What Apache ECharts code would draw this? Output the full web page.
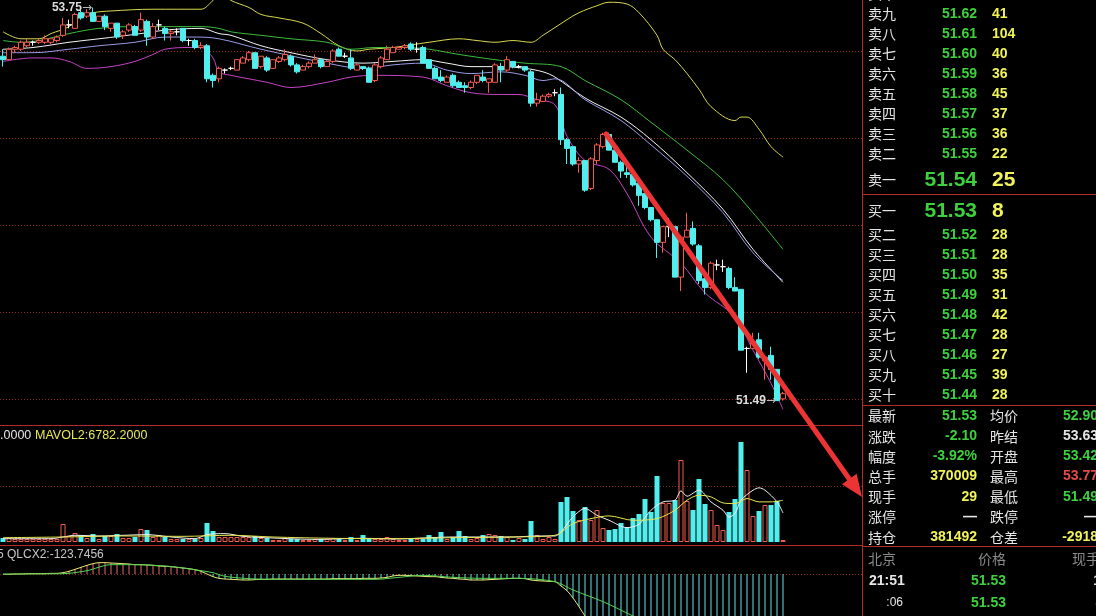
<!DOCTYPE html>
<html><head><meta charset="utf-8">
<script src="https://cdn.jsdelivr.net/npm/echarts@6/dist/echarts.min.js"></script>
<style>html,body{margin:0;padding:0;background:#000;overflow:hidden}#c{width:1096px;height:616px}</style>
</head><body><div id="c"></div>
<script>
// ---------- DATA ----------
// candles: [open, close, low, high]
const ohlc = [
[53.47,53.45,53.41,53.51],[53.45,53.51,53.45,53.52],[53.51,53.52,53.49,53.53],[53.51,53.55,53.50,53.56],[53.53,53.55,53.52,53.57],
[53.55,53.55,53.53,53.56],[53.55,53.56,53.54,53.57],[53.55,53.57,53.54,53.59],[53.55,53.57,53.54,53.57],[53.56,53.58,53.55,53.59],
[53.59,53.65,53.58,53.69],[53.65,53.65,53.63,53.68],[53.63,53.71,53.63,53.72],[53.72,53.69,53.68,53.74],[53.70,53.72,53.69,53.74],
[53.72,53.67,53.67,53.75],[53.67,53.70,53.67,53.70],[53.70,53.64,53.62,53.71],[53.63,53.66,53.61,53.66],[53.66,53.58,53.57,53.66],
[53.59,53.61,53.57,53.62],[53.62,53.65,53.61,53.66],[53.64,53.59,53.59,53.65],[53.62,53.68,53.61,53.72],[53.67,53.58,53.53,53.68],
[53.58,53.64,53.57,53.66],[53.65,53.65,53.62,53.68],[53.63,53.60,53.56,53.64],[53.60,53.61,53.56,53.62],[53.61,53.61,53.59,53.63],
[53.63,53.56,53.55,53.63],[53.56,53.56,53.53,53.57],[53.56,53.52,53.51,53.57],[53.52,53.53,53.51,53.55],[53.53,53.34,53.32,53.54],
[53.36,53.33,53.29,53.37],[53.34,53.40,53.32,53.41],[53.39,53.39,53.37,53.40],[53.40,53.40,53.39,53.41],[53.39,53.45,53.39,53.45],
[53.43,53.46,53.43,53.47],[53.45,53.49,53.44,53.50],[53.49,53.40,53.40,53.49],[53.41,53.47,53.40,53.47],[53.46,53.39,53.38,53.47],
[53.40,53.45,53.40,53.45],[53.44,53.46,53.43,53.47],[53.45,53.48,53.44,53.51],[53.47,53.42,53.41,53.48],[53.42,53.38,53.37,53.43],
[53.39,53.41,53.39,53.42],[53.41,53.43,53.40,53.44],[53.43,53.45,53.43,53.48],[53.45,53.41,53.40,53.45],[53.41,53.44,53.41,53.45],
[53.44,53.50,53.43,53.51],[53.51,53.47,53.47,53.52],[53.47,53.47,53.46,53.49],[53.46,53.40,53.39,53.51],[53.39,53.42,53.39,53.43],
[53.41,53.40,53.39,53.41],[53.40,53.32,53.32,53.41],[53.33,53.42,53.32,53.43],[53.41,53.46,53.40,53.47],[53.45,53.51,53.45,53.53],
[53.49,53.52,53.49,53.53],[53.51,53.52,53.51,53.53],[53.52,53.53,53.51,53.54],[53.54,53.51,53.50,53.55],[53.51,53.51,53.49,53.55],
[53.52,53.43,53.43,53.53],[53.45,53.40,53.40,53.45],[53.40,53.34,53.34,53.41],[53.35,53.33,53.32,53.39],[53.32,53.35,53.32,53.36],
[53.36,53.30,53.29,53.37],[53.32,53.29,53.29,53.33],[53.30,53.29,53.26,53.32],[53.29,53.32,53.28,53.33],[53.32,53.36,53.31,53.36],
[53.35,53.33,53.32,53.39],[53.32,53.34,53.26,53.34],[53.32,53.42,53.32,53.43],[53.41,53.39,53.32,53.43],[53.39,53.45,53.38,53.47],
[53.44,53.41,53.40,53.44],[53.41,53.41,53.40,53.42],[53.41,53.39,53.38,53.41],[53.38,53.20,53.18,53.39],[53.20,53.22,53.18,53.26],
[53.21,53.24,53.21,53.25],[53.24,53.25,53.23,53.26],[53.26,53.26,53.24,53.28],[53.25,52.99,52.96,53.29],[52.99,52.94,52.85,53.00],
[52.95,52.85,52.84,52.95],[52.85,52.87,52.80,52.89],[52.87,52.70,52.69,52.87],[52.71,52.88,52.70,52.89],[52.87,52.96,52.85,52.97],
[52.95,53.02,52.94,53.03],[53.02,52.93,52.93,53.03],[52.93,52.86,52.86,52.94],[52.86,52.81,52.77,52.87],[52.80,52.79,52.77,52.86],
[52.79,52.73,52.72,52.79],[52.74,52.67,52.61,52.75],[52.68,52.60,52.59,52.68],[52.60,52.53,52.52,52.60],[52.53,52.40,52.31,52.53],
[52.40,52.49,52.34,52.49],[52.49,52.49,52.43,52.54],[52.49,52.20,52.20,52.49],[52.20,52.43,52.12,52.44],[52.43,52.47,52.43,52.57],
[52.48,52.39,52.38,52.52],[52.38,52.18,52.16,52.39],[52.19,52.14,52.10,52.20],[52.14,52.28,52.13,52.29],[52.27,52.27,52.24,52.30],
[52.26,52.26,52.23,52.30],[52.25,52.14,52.13,52.26],[52.14,52.12,52.12,52.20],[52.13,51.78,51.78,52.13],[51.79,51.79,51.65,51.80],
[51.79,51.83,51.79,51.88],[51.84,51.74,51.73,51.88],[51.72,51.74,51.61,51.75],[51.75,51.67,51.61,51.80],[51.67,51.49,51.49,51.67],
[51.50,51.53,51.49,51.54]
];
const categories = ohlc.map((_, i) => String(i + 1));

// price-panel overlay lines: [candle index, price]
const bollUpper = [[0,53.61],[3,53.57],[6,53.57],[8,53.60],[11,53.64],[13,53.70],[15,53.72],[18,53.73],[25,53.74],[33,53.74],[35,53.79],[36,53.82],[37,53.82],[38,53.79],[41,53.75],[43,53.71],[46,53.69],[50,53.66],[53,53.60],[56,53.53],[59,53.50],[61,53.51],[65,53.52],[71,53.55],[76,53.57],[79,53.56],[82,53.55],[85,53.56],[88,53.55],[90,53.59],[94,53.68],[96,53.72],[99,53.76],[101,53.78],[104,53.77],[106,53.72],[109,53.59],[110,53.51],[112,53.45],[114,53.37],[116,53.28],[118,53.18],[122,53.10],[123,53.12],[124,53.12],[126,53.05],[128,52.95],[130,52.89]];
const maGreen = [[0,53.56],[3,53.55],[6,53.56],[11,53.60],[16,53.63],[22,53.64],[27,53.64],[33,53.64],[36,53.63],[38,53.61],[43,53.59],[48,53.57],[54,53.55],[58,53.51],[62,53.52],[67,53.52],[71,53.51],[76,53.48],[82,53.45],[87,53.43],[93,53.41],[97,53.33],[103,53.22],[108,53.09],[114,52.93],[120,52.76],[125,52.57],[130,52.36]];
const maWhite = [[0,53.51],[5,53.52],[11,53.55],[16,53.57],[23,53.60],[27,53.62],[33,53.63],[36,53.60],[38,53.59],[43,53.53],[48,53.49],[54,53.45],[60,53.43],[65,53.44],[70,53.45],[74,53.43],[78,53.41],[83,53.41],[87,53.40],[90,53.38],[92,53.35],[97,53.23],[103,53.12],[108,52.99],[114,52.80],[120,52.59],[125,52.36],[130,52.17]];
const maBlue = [[0,53.49],[5,53.49],[11,53.51],[16,53.53],[22,53.55],[27,53.58],[32,53.58],[36,53.57],[43,53.51],[54,53.43],[60,53.40],[65,53.42],[70,53.43],[74,53.39],[78,53.37],[83,53.38],[87,53.36],[90,53.33],[92,53.34],[97,53.22],[103,53.10],[108,52.96],[114,52.78],[120,52.57],[125,52.34],[130,52.18]];
const bollLower = [[0,53.44],[5,53.46],[8,53.46],[11,53.44],[14,53.40],[18,53.41],[22,53.44],[25,53.48],[27,53.51],[31,53.52],[33,53.52],[35,53.46],[36,53.38],[38,53.36],[44,53.32],[48,53.29],[54,53.32],[58,53.35],[62,53.36],[70,53.35],[74,53.30],[78,53.26],[83,53.25],[86,53.25],[89,53.22],[92,53.19],[94,53.01],[97,52.87],[101,52.82],[104,52.68],[108,52.43],[113,52.28],[117,52.11],[122,51.97],[125,51.78],[128,51.59],[130,51.44]];

// volume
const volumes = [
650,640,490,480,500,470,490,510,480,495,
2925,975,1460,1140,650,1300,490,975,980,1300,
650,640,810,2110,1950,810,1140,810,490,480,
490,500,480,650,3090,1790,810,820,800,810,
815,805,975,650,640,325,330,650,490,480,
325,330,490,480,495,650,490,325,810,325,
1140,490,480,495,810,490,325,330,490,480,
490,1140,650,1625,490,810,1790,975,490,650,
1140,1300,1140,975,810,325,650,490,3410,1140,
490,810,490,6500,7310,5040,3575,5690,3575,5200,
2275,1950,2110,3090,2440,3900,4550,6990,4875,10725,
6340,6340,6825,13325,6660,5200,10240,6175,5200,2760,
1950,4875,6990,16250,11700,4225,5040,6010,6010,6660,
325];
const mavol1 = [[0,540],[8,540],[10,815],[12,1090],[16,980],[20,1090],[24,1200],[28,815],[32,540],[34,1200],[37,1360],[40,920],[45,650],[52,430],[60,600],[66,490],[70,650],[75,815],[80,815],[85,815],[89,980],[92,980],[93,1630],[95,4070],[97,5430],[99,4340],[101,3530],[104,2330],[106,2880],[108,5160],[110,6520],[112,6790],[113,8310],[114,7440],[116,8420],[118,6520],[120,5160],[121,4070],[122,4620],[123,6790],[125,8420],[126,8800],[127,8420],[129,6520],[130,4720]];
const mavol2 = [[0,700],[10,815],[20,980],[30,920],[38,1090],[45,815],[55,600],[65,540],[75,700],[85,815],[92,1090],[95,2990],[98,3800],[101,4240],[105,3530],[109,3800],[112,5160],[114,6790],[116,7600],[118,7330],[120,6350],[122,6240],[124,7060],[126,6520],[128,6520],[130,6782.2]];

// QLCX indicator
const qlcx1 = [
-0.5,-0.5,0,0,0.5,0.5,0.5,0.5,1,1,
2,4,7,10,13,15.5,17,17,16.5,16,
15.5,15,14,14,13.5,13,12,11.5,11,10,
9,8,6.5,4,0,-4,-6.5,-7.5,-8,-8.5,
-9,-9,-8.5,-8,-8,-7.5,-7.5,-7.5,-7.5,-7.5,
-7.5,-7.5,-7.5,-7.5,-7.5,-7,-7,-7,-7,-7,
-6.5,-6.5,-6.5,-6,-5,-3,-2,-2,-2.5,-3,
-3.5,-4,-4,-5,-6,-6.5,-7.5,-8,-9,-9,
-9,-8.5,-8,-7.5,-7,-6.5,-6.5,-7,-9,-10,
-10.5,-11,-11.5,-18,-25,-36,-49,-63,-75,-85,
-95,-105,-112,-118,-124,-130,-135,-140,-146,-155,
-160,-163,-170,-172,-170,-172,-175,-178,-177,-175,
-174,-176,-185,-186,-185,-183,-184,-186,-190,-188,-185];
const qlcx2 = [[0,0],[10,0.5],[14,5],[18,14],[22,14],[27,12],[30,9],[33,5],[35,2],[37,-3.5],[41,-7],[45,-8],[55,-8],[62,-8],[66,-5],[70,-2],[75,-5],[80,-6.5],[86,-6.5],[92,-11.5],[95,-24],[100,-41.5],[105,-63],[110,-85],[115,-100],[120,-112],[125,-118],[130,-123.7456]];

// quote panel
const askLabels = ['卖十','卖九','卖八','卖七','卖六','卖五','卖四','卖三','卖二'];
const askPrices = ['51.63','51.62','51.61','51.60','51.59','51.58','51.57','51.56','51.55'];
const askVols = ['','41','104','40','36','45','37','36','22'];
const ask1 = ['卖一','51.54','25'];
const bid1 = ['买一','51.53','8'];
const bidLabels = ['买二','买三','买四','买五','买六','买七','买八','买九','买十'];
const bidPrices = ['51.52','51.51','51.50','51.49','51.48','51.47','51.46','51.45','51.44'];
const bidVols = ['28','28','35','31','42','28','27','39','28'];
const statLabels1 = ['最新','涨跌','幅度','总手','现手','涨停','持仓'];
const statValues1 = ['51.53','-2.10','-3.92%','370009','29','—','381492'];
const statLabels2 = ['均价','昨结','开盘','最高','最低','跌停','仓差'];
const statValues2 = ['52.90','53.63','53.42','53.77','51.49','—','-2918'];
const tickHeader = ['北京','价格','现手'];
const tickTimes = ['21:51',':06'];
const tickPrices = ['51.53','51.53'];
const tickVols = ['1','8'];

// ---------- STYLE ----------
const RED = '#f25a4e', CYAN = '#52eeee', GRID_RED = '#8c2424', SEP_RED = '#b42a2a';
const GREEN_T = '#3dd23d', YELLOW_T = '#f2f25a', WHITE_T = '#e6e6e6';
const C_STAT1 = [GREEN_T, GREEN_T, GREEN_T, YELLOW_T, YELLOW_T, WHITE_T, YELLOW_T];
const C_STAT2 = [GREEN_T, WHITE_T, GREEN_T, '#e84a4a', GREEN_T, WHITE_T, YELLOW_T];
const CJK = '"Noto Sans CJK SC"', LAT = '"Liberation Sans", Arial';

const PMIN = 51.35, PMAX = 53.793, MAIN_TOP = 0, MAIN_H = 425;
const pxPer = MAIN_H / (PMAX - PMIN);
const bgTop = MAIN_TOP + (PMAX - 53.5) * pxPer;
const bgH = (53.5 - 51.5) * pxPer;
const VOL_TOP = 430, VOL_H = 112, VOL_MAX = 18200;
const IND_TOP = 546, IND_H = 70;

const chart = echarts.init(document.getElementById('c'), null, {renderer: 'canvas'});

function T(text, x, y, fill, font, align) {
  return {type: 'text', x: x, y: y, z: 100, silent: true,
    style: {text: text, fill: fill, font: font, align: align || 'left', verticalAlign: 'middle',
            textAlign: align || 'left', textVerticalAlign: 'middle'}};
}
function L(x1, y1, x2, y2, color, w) {
  return {type: 'line', z: 90, silent: true, shape: {x1, y1, x2, y2}, style: {stroke: color, lineWidth: w || 1}};
}

const g = [];
// panel frame
g.push(L(862.5, 0, 862.5, 616, SEP_RED));
g.push(L(0, 425.5, 862, 425.5, SEP_RED));
g.push(L(0, 545.5, 862, 545.5, SEP_RED));
g.push(L(862, 194.5, 1096, 194.5, SEP_RED));
g.push(L(862, 405.5, 1096, 405.5, SEP_RED));
g.push(L(862, 546.5, 1096, 546.5, SEP_RED));
// asks (first row sits mostly above the top edge)
askLabels.forEach((t, i) => {
  const y = -6 + 20 * i;
  g.push(T(t, 868, y, WHITE_T, '14px ' + CJK));
  g.push(T(askPrices[i], 977, y, GREEN_T, 'bold 14px ' + LAT, 'right'));
  if (askVols[i]) g.push(T(askVols[i], 992, y, YELLOW_T, 'bold 14px ' + LAT));
});
g.push(T(ask1[0], 868, 180, WHITE_T, '14px ' + CJK));
g.push(T(ask1[1], 977, 180, GREEN_T, 'bold 21px ' + LAT, 'right'));
g.push(T(ask1[2], 992, 180, YELLOW_T, 'bold 21px ' + LAT));
g.push(T(bid1[0], 868, 211, WHITE_T, '14px ' + CJK));
g.push(T(bid1[1], 977, 211, GREEN_T, 'bold 21px ' + LAT, 'right'));
g.push(T(bid1[2], 992, 211, YELLOW_T, 'bold 21px ' + LAT));
bidLabels.forEach((t, i) => {
  const y = 235 + 20 * i;
  g.push(T(t, 868, y, WHITE_T, '14px ' + CJK));
  g.push(T(bidPrices[i], 977, y, GREEN_T, 'bold 14px ' + LAT, 'right'));
  g.push(T(bidVols[i], 992, y, YELLOW_T, 'bold 14px ' + LAT));
});
statLabels1.forEach((t, i) => {
  const y = 416 + 20.2 * i;
  g.push(T(t, 868, y, WHITE_T, '14px ' + CJK));
  g.push(T(statValues1[i], 977, y, C_STAT1[i], 'bold 14px ' + LAT, 'right'));
  g.push(T(statLabels2[i], 990, y, WHITE_T, '14px ' + CJK));
  g.push(T(statValues2[i], 1098, y, C_STAT2[i], 'bold 14px ' + LAT, 'right'));
});
g.push(T(tickHeader[0], 868, 559, '#8a8a8a', '14px ' + CJK));
g.push(T(tickHeader[1], 978, 559, '#8a8a8a', '14px ' + CJK));
g.push(T(tickHeader[2], 1072, 559, '#8a8a8a', '14px ' + CJK));
g.push(T(tickTimes[0], 869, 581, WHITE_T, 'bold 14px ' + LAT));
g.push(T(tickTimes[1], 903, 603, WHITE_T, '12px ' + LAT, 'right'));
tickPrices.forEach((p, i) => g.push(T(p, 1006, 581 + 22 * i, GREEN_T, 'bold 14px ' + LAT, 'right')));
g.push(T(tickVols[0], 1101, 581, WHITE_T, 'bold 14px ' + LAT, 'right'));
g.push(T(tickVols[1], 1103, 603, '#e86060', 'bold 14px ' + LAT, 'right'));
// indicator titles
g.push(T('.0000', 0, 436, WHITE_T, '12.5px ' + LAT));
g.push(T('MAVOL2:' + mavol2[mavol2.length - 1][1].toFixed(4), 35, 436, '#e8e85a', '12.5px ' + LAT));
g.push(T('5', -3, 555, '#c8c8c8', '12px ' + LAT));
g.push(T('QLCX2:' + qlcx2[qlcx2.length - 1][1].toFixed(4), 7, 555, '#c8c8c8', '12px ' + LAT));
// annotation arrow
(function () {
  const x1 = 606, y1 = 134, tx = 862, ty = 497;
  const dx = tx - x1, dy = ty - y1, len = Math.hypot(dx, dy), ux = dx / len, uy = dy / len;
  const hl = 22, hw = 9, bx = tx - ux * hl, by = ty - uy * hl;
  g.push({type: 'line', z: 120, silent: true, shape: {x1: x1, y1: y1, x2: bx, y2: by},
          style: {stroke: '#ec3434', lineWidth: 5, lineCap: 'round'}});
  g.push({type: 'polygon', z: 120, silent: true,
          shape: {points: [[tx, ty], [bx - uy * hw, by + ux * hw], [bx + uy * hw, by - ux * hw]]},
          style: {fill: '#ec3434'}});
})();

const hiIdx = 15, loIdx = 129;
const dotted = {show: true, lineStyle: {color: GRID_RED, type: [1, 2], width: 1}};
const hiddenCat = (gi) => ({type: 'category', gridIndex: gi, data: categories, boundaryGap: true, show: false});
const hiddenVal = (gi) => ({type: 'value', gridIndex: gi, min: 0, max: 1, show: false});
const lineS = (data, color, xi, yi, smooth) => ({type: 'line', xAxisIndex: xi, yAxisIndex: yi, data: data,
  showSymbol: false, symbol: 'none', smooth: smooth == null ? 0.35 : smooth, silent: true,
  lineStyle: {color: color, width: 1}, z: 3});
const richLbl = {a: {color: '#dcdcdc', fontWeight: 'bold', fontSize: 12, fontFamily: 'Liberation Sans'},
                 b: {color: '#b8b8b8', fontSize: 12, fontFamily: 'DejaVu Sans'}};

const option = {
  backgroundColor: '#000',
  animation: false,
  grid: [
    {left: 0, top: MAIN_TOP, width: 786, height: MAIN_H},
    {left: 0, top: bgTop, width: 862, height: bgH},
    {left: 0, top: VOL_TOP, width: 786, height: VOL_H},
    {left: 0, top: VOL_TOP, width: 862, height: VOL_H},
    {left: 0, top: IND_TOP, width: 786, height: IND_H},
    {left: 0, top: IND_TOP, width: 862, height: IND_H}
  ],
  xAxis: [hiddenCat(0), hiddenVal(1), hiddenCat(2), hiddenVal(3), hiddenCat(4), hiddenVal(5)],
  yAxis: [
    {type: 'value', gridIndex: 0, min: PMIN, max: PMAX, show: false},
    {type: 'value', gridIndex: 1, min: 51.5, max: 53.5, interval: 0.5, axisLine: {show: false}, axisTick: {show: false}, axisLabel: {show: false}, splitLine: dotted},
    {type: 'value', gridIndex: 2, min: 0, max: VOL_MAX, show: false},
    {type: 'value', gridIndex: 3, min: 0, max: VOL_MAX, interval: VOL_MAX / 2, axisLine: {show: false}, axisTick: {show: false}, axisLabel: {show: false},
      splitLine: Object.assign({showMinLine: false, showMaxLine: false}, dotted)},
    {type: 'value', gridIndex: 4, min: -63, max: 42, show: false},
    {type: 'value', gridIndex: 5, min: -63, max: 42, interval: 63, axisLine: {show: false}, axisTick: {show: false}, axisLabel: {show: false},
      splitLine: Object.assign({showMinLine: false, showMaxLine: false}, dotted)}
  ],
  graphic: g,
  series: [
    {type: 'candlestick', xAxisIndex: 0, yAxisIndex: 0, data: ohlc, barWidth: 5, silent: true, z: 4,
      itemStyle: {color: '#000', color0: CYAN, borderColor: RED, borderColor0: CYAN, borderColorDoji: '#ffffff', borderWidth: 1},
      markPoint: {symbol: 'circle', symbolSize: 0.01, silent: true, animation: false,
        data: [
          {coord: [categories[hiIdx], ohlc[hiIdx][3]], label: {show: true, position: 'left', distance: 1,
            formatter: '{a|' + ohlc[hiIdx][3].toFixed(2) + '}{b|→}', rich: richLbl}},
          {coord: [categories[loIdx], ohlc[loIdx][2]], label: {show: true, position: 'left', distance: 1,
            formatter: '{a|' + ohlc[loIdx][2].toFixed(2) + '}{b|→}', rich: richLbl}}
        ]}
    },
    lineS(bollUpper, '#d6d650', 0, 0),
    lineS(maGreen, '#3cbc3c', 0, 0),
    lineS(maWhite, '#f4f4f4', 0, 0),
    lineS(maBlue, '#9a9ae6', 0, 0),
    lineS(bollLower, '#c444c4', 0, 0),
    {type: 'bar', xAxisIndex: 2, yAxisIndex: 2, barWidth: 5, silent: true, z: 2,
      data: volumes.map((v, i) => {
        const up = ohlc[i][1] >= ohlc[i][0];
        return {value: v, itemStyle: up ? {color: '#000', borderColor: RED, borderWidth: 1} : {color: CYAN}};
      })},
    lineS(mavol1, '#f0f0f0', 2, 2, 0.3),
    lineS(mavol2, '#e6e64e', 2, 2, 0.3),
    {type: 'bar', xAxisIndex: 4, yAxisIndex: 4, barWidth: 1, silent: true, z: 2, clip: true,
      data: qlcx1.map(v => ({value: v, itemStyle: {color: v >= 0 ? '#e26a6a' : '#62e2e2'}}))},
    lineS(qlcx1.map((v, i) => [i, v]), '#e8e878', 4, 4, 0.3),
    lineS(qlcx2, '#52d452', 4, 4, 0.3)
  ]
};
chart.setOption(option);
</script>
</body></html>
